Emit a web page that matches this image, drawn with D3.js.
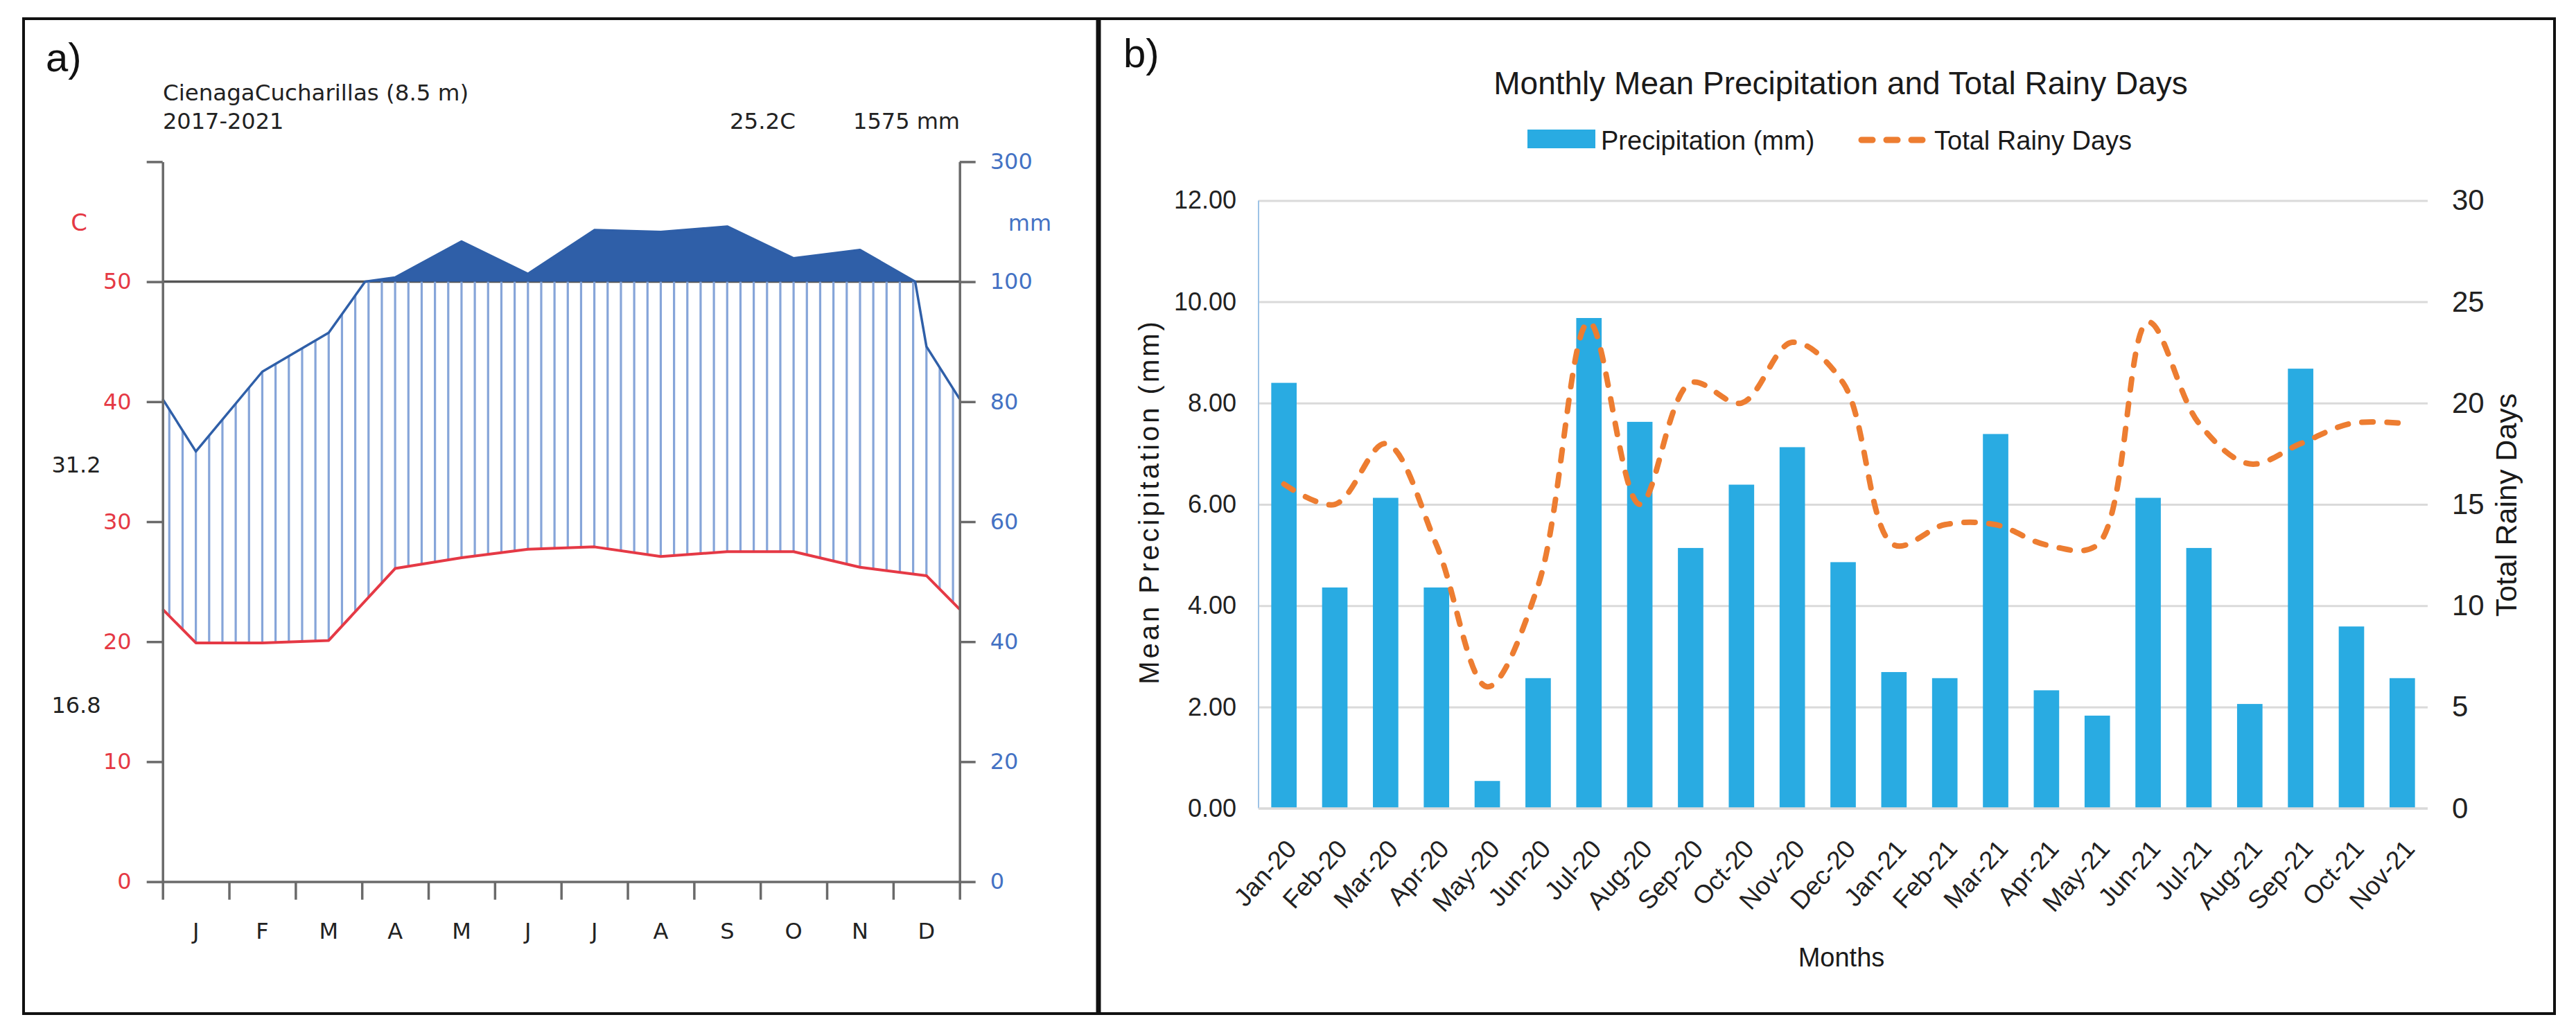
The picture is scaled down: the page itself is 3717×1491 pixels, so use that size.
<!DOCTYPE html>
<html>
<head>
<meta charset="utf-8">
<script src="https://cdn.jsdelivr.net/npm/d3@7"></script>
<style>
  html, body { margin: 0; padding: 0; background: #fff; }
  svg { display: block; }
</style>
</head>
<body>
<div id="chart"></div>
<script>
// ── Canvas
const W = 3717, H = 1491;
const FONT = '"Liberation Sans", Arial, Helvetica, sans-serif';
const FONT_A = '"DejaVu Sans", Verdana, sans-serif';   // wider face used in the climate diagram

// ── Panel a: Walter–Lieth climate diagram (CienagaCucharillas, 2017-2021)
const monthInitials = ['J', 'F', 'M', 'A', 'M', 'J', 'J', 'A', 'S', 'O', 'N', 'D'];
const tempMean      = [19.9, 19.9, 20.1, 26.1, 27.0, 27.7, 27.9, 27.1, 27.5, 27.5, 26.2, 25.5];
const precipMonthly = [71.7, 85.0, 91.5, 107, 167, 113, 186, 183, 192, 139, 153, 89.2];
const tempTicks     = [0, 10, 20, 30, 40, 50, 60];
const precipTicks   = [0, 20, 40, 60, 80, 100, 300];

// ── Panel b: monthly mean precipitation and rainy days
const monthLabels = ['Jan-20', 'Feb-20', 'Mar-20', 'Apr-20', 'May-20', 'Jun-20', 'Jul-20', 'Aug-20',
  'Sep-20', 'Oct-20', 'Nov-20', 'Dec-20', 'Jan-21', 'Feb-21', 'Mar-21', 'Apr-21', 'May-21',
  'Jun-21', 'Jul-21', 'Aug-21', 'Sep-21', 'Oct-21', 'Nov-21'];
const precipMean = [8.40, 4.36, 6.13, 4.36, 0.54, 2.57, 9.68, 7.63, 5.14, 6.39, 7.13, 4.86,
  2.69, 2.57, 7.39, 2.33, 1.83, 6.13, 5.14, 2.06, 8.68, 3.59, 2.57];
const rainyDays = [16, 15, 18, 13, 6, 11, 24, 15, 21, 20, 23, 21, 13, 14, 14, 13, 13, 24, 19, 17, 18, 19, 19];
const leftTicks  = [0, 2, 4, 6, 8, 10, 12];
const rightTicks = [0, 5, 10, 15, 20, 25, 30];

const svg = d3.select('#chart').append('svg')
  .attr('width', W).attr('height', H)
  .style('background', '#fff');

function label(g, x, y, txt, opts = {}) {
  return g.append('text')
    .attr('x', x).attr('y', y)
    .attr('font-family', opts.family || FONT)
    .attr('font-size', (opts.size || 32) + 'px')
    .attr('fill', opts.fill || '#222')
    .attr('text-anchor', opts.anchor || 'start')
    .text(txt);
}

// ── Panel frames
svg.append('rect').attr('x', 34).attr('y', 27).attr('width', 1551).attr('height', 1436)
  .attr('fill', 'none').attr('stroke', '#111').attr('stroke-width', 4);
svg.append('rect').attr('x', 1585).attr('y', 27).attr('width', 2101).attr('height', 1436)
  .attr('fill', 'none').attr('stroke', '#111').attr('stroke-width', 4);
svg.append('line').attr('x1', 1585).attr('x2', 1585).attr('y1', 27).attr('y2', 1463)
  .attr('stroke', '#111').attr('stroke-width', 7);

// ═════════ Panel a ═════════
const ga = svg.append('g');
const AX0 = 234.7, AX1 = 1384.7;
const xA = d3.scaleLinear().domain([0, 12]).range([AX0, AX1]);
const yT = d3.scaleLinear().domain([0, 60]).range([1272.6, 233.4]);
// precipitation scale: 2 mm per °C up to 100 mm, then compressed to 300 mm at the top
const yP = d3.scaleLinear().domain([0, 100, 300]).range([yT(0), yT(50), yT(60)]);

label(ga, 66, 103, 'a)', { size: 58, fill: '#111' });
label(ga, 235, 145, 'CienagaCucharillas (8.5 m)', { size: 32.5, family: FONT_A });
label(ga, 235, 186, '2017-2021', { size: 32, family: FONT_A });
label(ga, 1148, 186, '25.2C', { size: 32.5, anchor: 'end', family: FONT_A });
label(ga, 1385, 186, '1575 mm', { size: 32, anchor: 'end', family: FONT_A });
label(ga, 114, 333, 'C', { size: 34, fill: '#E53945', anchor: 'middle', family: FONT_A });
label(ga, 1486, 333, 'mm', { size: 32, fill: '#4472C4', anchor: 'middle', family: FONT_A });
label(ga, 110, 682, '31.2', { size: 32, anchor: 'middle', family: FONT_A });
label(ga, 110, 1029, '16.8', { size: 32, anchor: 'middle', family: FONT_A });

// wrap-around values at the diagram edges (mean of Dec and Jan)
const edgeT = (tempMean[0] + tempMean[11]) / 2;
const edgeP = (precipMonthly[0] + precipMonthly[11]) / 2;
const tPts = [[0, edgeT], ...tempMean.map((v, i) => [i + 0.5, v]), [12, edgeT]];
const pPts = [[0, edgeP], ...precipMonthly.map((v, i) => [i + 0.5, v]), [12, edgeP]];

// precipitation is linear in mm, so add a vertex where it crosses 100 mm (scale break)
const pDense = [];
pPts.forEach((p, i) => {
  if (i > 0) {
    const q = pPts[i - 1];
    if ((q[1] - 100) * (p[1] - 100) < 0) {
      const f = (100 - q[1]) / (p[1] - q[1]);
      pDense.push([q[0] + f * (p[0] - q[0]), 100]);
    }
  }
  pDense.push(p);
});

function interp(pts, m) {
  for (let i = 1; i < pts.length; i++) {
    if (m <= pts[i][0]) {
      const a = pts[i - 1], b = pts[i];
      return a[1] + (b[1] - a[1]) * (m - a[0]) / (b[0] - a[0]);
    }
  }
  return pts[pts.length - 1][1];
}

const AXIS_C = '#6a6a6a';

// 50 °C / 100 mm reference line
ga.append('line').attr('x1', AX0).attr('x2', AX1)
  .attr('y1', yT(50)).attr('y2', yT(50))
  .attr('stroke', '#555').attr('stroke-width', 3.5);

// humid period hatching
const hatch = d3.range(60).map(k => {
  const m = (k + 0.5) / 5;
  return { m, t: interp(tPts, m), p: interp(pPts, m) };
}).filter(d => d.p / 2 > d.t);
ga.append('g').selectAll('line').data(hatch).enter().append('line')
  .attr('x1', d => xA(d.m)).attr('x2', d => xA(d.m))
  .attr('y1', d => yT(d.t)).attr('y2', d => yP(Math.min(d.p, 100)))
  .attr('stroke', '#86A5D9').attr('stroke-width', 3.2);

// very humid (> 100 mm) fill
ga.append('path').datum(pDense)
  .attr('d', d3.area().x(d => xA(d[0])).y0(yP(100)).y1(d => yP(Math.max(d[1], 100))))
  .attr('fill', '#2F5FA8');

// precipitation line
ga.append('path').datum(pDense)
  .attr('d', d3.line().x(d => xA(d[0])).y(d => yP(d[1])))
  .attr('fill', 'none').attr('stroke', '#2F5FA8').attr('stroke-width', 3.5)
  .attr('stroke-linejoin', 'round');

// temperature line
ga.append('path').datum(tPts)
  .attr('d', d3.line().x(d => xA(d[0])).y(d => yT(d[1])))
  .attr('fill', 'none').attr('stroke', '#E53945').attr('stroke-width', 4)
  .attr('stroke-linejoin', 'round');

// left temperature axis
const axL = ga.append('g').attr('transform', `translate(${AX0},0)`)
  .call(d3.axisLeft(yT).tickValues(tempTicks).tickSize(23).tickPadding(22).tickSizeOuter(0)
    .tickFormat(d => d === 60 ? '' : d));
// right precipitation axis
const axR = ga.append('g').attr('transform', `translate(${AX1},0)`)
  .call(d3.axisRight(yP).tickValues(precipTicks).tickSize(23).tickPadding(21).tickSizeOuter(0));
// month axis (ticks on month boundaries)
const axB = ga.append('g').attr('transform', `translate(0,${yT(0)})`)
  .call(d3.axisBottom(xA).tickValues(d3.range(13)).tickSize(26).tickSizeOuter(0).tickFormat(''));

[axL, axR, axB].forEach(a => {
  a.select('.domain').attr('stroke', AXIS_C).attr('stroke-width', 3.5);
  a.selectAll('.tick line').attr('stroke', AXIS_C).attr('stroke-width', 3.5);
  a.selectAll('.tick text').attr('font-family', FONT_A).attr('font-size', '32px');
});
axL.selectAll('.tick text').attr('fill', '#E53945');
axR.selectAll('.tick text').attr('fill', '#4472C4');

ga.append('g').selectAll('text').data(monthInitials).enter().append('text')
  .attr('x', (d, i) => xA(i + 0.5)).attr('y', 1355)
  .attr('text-anchor', 'middle')
  .attr('font-family', FONT_A).attr('font-size', '32px').attr('fill', '#222')
  .text(d => d);

// ═════════ Panel b ═════════
const gb = svg.append('g');
const BX0 = 1816, BX1 = 3503;
const xB = d3.scaleBand().domain(monthLabels).range([BX0, BX1]).paddingInner(0.5).paddingOuter(0.25);
const yL = d3.scaleLinear().domain([0, 12]).range([1166.7, 289.4]);
const yR = d3.scaleLinear().domain([0, 30]).range([1166.7, 289.4]);

label(gb, 1621, 97, 'b)', { size: 58, fill: '#111' });
label(gb, 2656, 136, 'Monthly Mean Precipitation and Total Rainy Days', { size: 46, anchor: 'middle', fill: '#1a1a1a' });

// legend
gb.append('rect').attr('x', 2204).attr('y', 187).attr('width', 98).attr('height', 27).attr('fill', '#29ABE2');
label(gb, 2310, 216, 'Precipitation (mm)', { size: 38, fill: '#1a1a1a' });
gb.append('line').attr('x1', 2686).attr('x2', 2774).attr('y1', 202).attr('y2', 202)
  .attr('stroke', '#ED7D31').attr('stroke-width', 9)
  .attr('stroke-dasharray', '16 20').attr('stroke-linecap', 'round');
label(gb, 2791, 216, 'Total Rainy Days', { size: 38, fill: '#1a1a1a' });

// gridlines
const grid = gb.append('g').attr('transform', `translate(${BX0},0)`)
  .call(d3.axisLeft(yL).tickValues(leftTicks).tickSize(-(BX1 - BX0)).tickFormat(''));
grid.select('.domain').remove();
grid.selectAll('.tick line').attr('stroke', '#DADADA').attr('stroke-width', 3);

// left axis line
gb.append('line').attr('x1', BX0).attr('x2', BX0).attr('y1', yL(12)).attr('y2', yL(0))
  .attr('stroke', '#9DC3E6').attr('stroke-width', 2);

// bars
gb.append('g').selectAll('rect').data(precipMean).enter().append('rect')
  .attr('x', (d, i) => xB(monthLabels[i]))
  .attr('width', xB.bandwidth())
  .attr('y', d => yL(d))
  .attr('height', d => yL(0) - yL(d))
  .attr('fill', '#29ABE2');

// rainy days (smoothed dashed line)
gb.append('path').datum(rainyDays)
  .attr('d', d3.line()
    .x((d, i) => xB(monthLabels[i]) + xB.bandwidth() / 2)
    .y(d => yR(d))
    .curve(d3.curveCatmullRom.alpha(0.5)))
  .attr('fill', 'none').attr('stroke', '#ED7D31').attr('stroke-width', 8)
  .attr('stroke-dasharray', '16 20').attr('stroke-linecap', 'round');

// left axis labels
const bl = gb.append('g').attr('transform', `translate(${BX0},0)`)
  .call(d3.axisLeft(yL).tickValues(leftTicks).tickSize(0).tickPadding(32).tickFormat(d3.format('.2f')));
bl.select('.domain').remove();
bl.selectAll('.tick text').attr('font-family', FONT).attr('font-size', '36px').attr('fill', '#222');

// right axis labels
const br = gb.append('g').attr('transform', `translate(${BX1},0)`)
  .call(d3.axisRight(yR).tickValues(rightTicks).tickSize(0).tickPadding(35));
br.select('.domain').remove();
br.selectAll('.tick text').attr('font-family', FONT).attr('font-size', '42px').attr('fill', '#222');

// x axis with rotated month labels
const bx = gb.append('g').attr('transform', `translate(0,${yL(0)})`)
  .call(d3.axisBottom(xB).tickSize(0));
bx.select('.domain').attr('stroke', '#DADADA').attr('stroke-width', 3)
  .attr('d', `M${BX0},0H${BX1}`);
bx.selectAll('.tick text')
  .attr('font-family', FONT).attr('font-size', '37px').attr('fill', '#222')
  .attr('text-anchor', 'end')
  .attr('x', 0).attr('y', 0).attr('dy', 0)
  .attr('transform', 'translate(20,60) rotate(-48)');

// axis titles
label(gb, 2657, 1395, 'Months', { size: 38, anchor: 'middle', fill: '#1a1a1a' });
gb.append('text')
  .attr('transform', 'translate(1672,724) rotate(-90)')
  .attr('text-anchor', 'middle')
  .attr('font-family', FONT).attr('font-size', '40px').attr('fill', '#1a1a1a')
  .attr('letter-spacing', '4px')
  .text('Mean Precipitation (mm)');
gb.append('text')
  .attr('transform', 'translate(3631,729) rotate(-90)')
  .attr('text-anchor', 'middle')
  .attr('font-family', FONT).attr('font-size', '43px').attr('fill', '#1a1a1a')
  .text('Total Rainy Days');
</script>
</body>
</html>
